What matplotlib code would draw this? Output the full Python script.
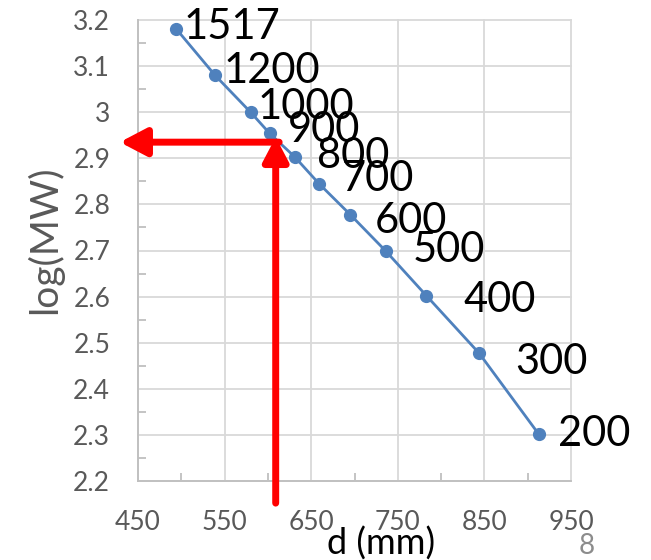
import matplotlib
matplotlib.use("Agg")
import matplotlib.pyplot as plt
from matplotlib.ticker import FuncFormatter

plt.rcParams['font.family'] = ['Lato', 'DejaVu Sans']

# ---------------------------------
# Data
# ---------------------------------
diameter_mm = [494, 539, 580, 602, 631, 659, 695, 736, 783, 844, 913]
log_mw = [3.181, 3.080, 3.000, 2.954, 2.903, 2.845, 2.778, 2.699, 2.602, 2.477, 2.301]
point_labels = ["1517", "1200", "1000", "900", "800", "700",
                "600", "500", "400", "300", "200"]

x_ticks = [450, 550, 650, 750, 850, 950]
x_minor = [500, 600, 700, 800, 900]
y_ticks = [2.2, 2.3, 2.4, 2.5, 2.6, 2.7, 2.8, 2.9, 3.0, 3.1, 3.2]
y_minor = [2.25, 2.35, 2.45, 2.55, 2.65, 2.75, 2.85, 2.95, 3.05, 3.15]

# label offsets (pixels, right / up) for the baseline of each label
label_dx = [7, 8, 7, 18, 22, 23, 25, 27, 37, 36, 19]
label_dy = [-10, -8, -7, -9, -11, -7, -18, -11, -16, -21, -12]

# red reading arrows
read_x = 609
read_y = 2.935

# ---------------------------------
# Figure
# ---------------------------------
fig = plt.figure(figsize=(6.51, 5.60), dpi=100)
ax = fig.add_axes([138 / 651, 1 - 481 / 560, 433 / 651, 461 / 560])

ax.set_xlim(450, 950)
ax.set_ylim(2.2, 3.2)
ax.set_xticks(x_ticks)
ax.set_xticks(x_minor, minor=True)
ax.set_yticks(y_ticks)
ax.set_yticks(y_minor, minor=True)
ax.yaxis.set_major_formatter(FuncFormatter(lambda v, p: "%g" % round(v, 2)))

ax.grid(True, which="major", color="#d9d9d9", lw=1.3)
ax.set_axisbelow(True)
for s in ["top", "right"]:
    ax.spines[s].set_visible(False)
for s in ["left", "bottom"]:
    ax.spines[s].set_color("#bfbfbf")
    ax.spines[s].set_linewidth(1.3)

ax.tick_params(which="major", length=0, labelsize=19, labelcolor="#595959")
ax.tick_params(axis="y", which="major", pad=20)
ax.tick_params(axis="x", which="major", pad=21)
ax.tick_params(which="minor", direction="in", length=6, width=1.3, color="#bfbfbf")
for gl in ax.get_xgridlines() + ax.get_ygridlines():
    gl.set_clip_on(False)

ax.plot(diameter_mm, log_mw, color="#4f81bd", lw=2.0, marker="o",
        markersize=8.5, clip_on=False, zorder=3)

for x, y, lab, dx, dy in zip(diameter_mm, log_mw, point_labels, label_dx, label_dy):
    ax.annotate(lab, (x, y), xytext=(dx, dy), textcoords="offset pixels",
                fontsize=30, color="black", ha="left", va="baseline",
                annotation_clip=False, zorder=4)

# ---------------------------------
# Red arrows
# ---------------------------------
arrow_style = "-|>,head_length=0.8,head_width=0.42"
ax.annotate("", xy=(429, read_y), xytext=(read_x + 4, read_y),
            arrowprops=dict(arrowstyle=arrow_style, color="red", lw=5,
                            mutation_scale=20, shrinkA=0, shrinkB=0),
            annotation_clip=False, zorder=5)
ax.annotate("", xy=(read_x, 2.946), xytext=(read_x, 2.152),
            arrowprops=dict(arrowstyle=arrow_style, color="red", lw=5,
                            mutation_scale=18, shrinkA=0, shrinkB=0),
            annotation_clip=False, zorder=5)

# ---------------------------------
# Axis titles and slide number
# ---------------------------------
fig.text(45 / 651, 1 - 240 / 560, "log(MW)", rotation=90, ha="center",
         va="center", fontsize=28, color="#595959")
fig.text(381 / 651, 5 / 560, "d (mm)", ha="center", va="baseline",
         fontsize=26, color="black")
fig.text(587 / 651, 6 / 560, "8", ha="center", va="baseline",
         fontsize=20, color="#8c8c8c")

fig.savefig("out.png", dpi=100)
